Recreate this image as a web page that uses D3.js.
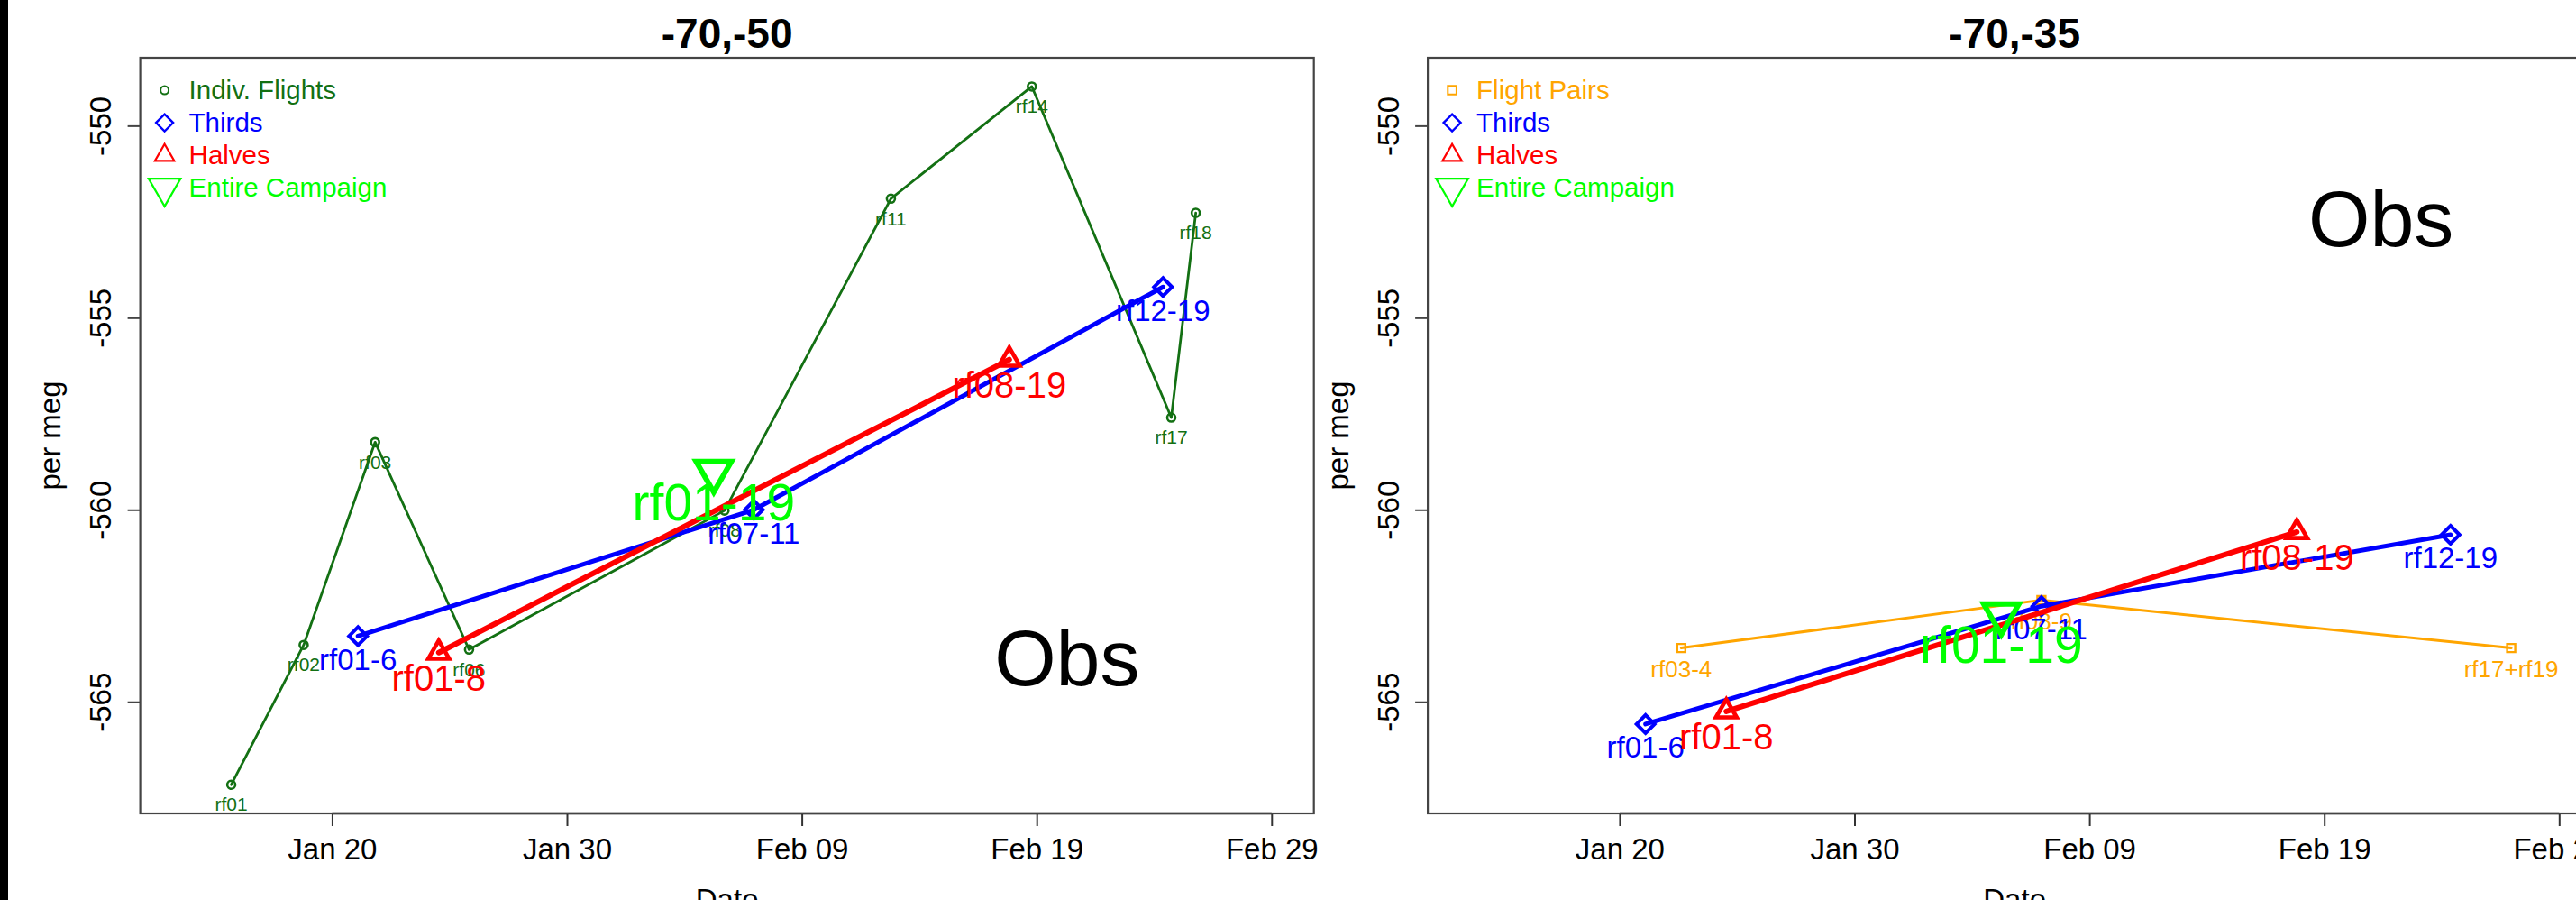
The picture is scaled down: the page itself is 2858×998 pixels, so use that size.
<!DOCTYPE html>
<html>
<head>
<meta charset="utf-8">
<script src="https://cdn.jsdelivr.net/npm/d3@7"></script>
<style>
  html, body { margin: 0; padding: 0; background: #fff; overflow: hidden; }
  svg { display: block; }
</style>
</head>
<body>
<svg id="chart" width="2858" height="998"></svg>
<script>
// ---------------- DATA ----------------
const tickDates = ["2016-01-20", "2016-01-30", "2016-02-09", "2016-02-19", "2016-02-29"];
const yTicks = [-550, -555, -560, -565];
const panelTitles = ["-70,-50", "-70,-35"];

// Panel 1: individual flights
const p1FlightLabels = ["rf01", "rf02", "rf03", "rf06", "rf08", "rf11", "rf14", "rf17", "rf18"];
const p1FlightDates = ["2016-01-15T17:00", "2016-01-18T19:00", "2016-01-21T20:00", "2016-01-25T20:00",
  "2016-02-05T17:00", "2016-02-12T19:00", "2016-02-18T19:00", "2016-02-24T17:30", "2016-02-25T18:30"];
const p1FlightValues = [-567.16, -563.52, -558.24, -563.64, -560.02, -551.90, -548.98, -557.60, -552.27];

// Panel 2: flight pairs
const p2PairLabels = ["rf03-4", "rf08-9", "rf17+rf19"];
const p2PairDates = ["2016-01-22T15:00", "2016-02-06T23:00", "2016-02-26T23:00"];
const p2PairValues = [-563.60, -562.35, -563.60];

// Thirds
const thirdsLabels = ["rf01-6", "rf07-11", "rf12-19"];
const thirdsDates = ["2016-01-21T02:30", "2016-02-06T23:00", "2016-02-24T09:00"];
const p1ThirdsValues = [-563.29, -560.00, -554.20];
const p2ThirdsValues = [-565.58, -562.51, -560.65];

// Halves
const halvesLabels = ["rf01-8", "rf08-19"];
const halvesDates = ["2016-01-24T13:00", "2016-02-17T20:00"];
const p1HalvesValues = [-563.72, -556.09];
const p2HalvesValues = [-565.25, -560.58];

// Entire campaign
const entireLabels = ["rf01-19"];
const entireDates = ["2016-02-05T06:00"];
const p1EntireValues = [-559.01];
const p2EntireValues = [-562.72];

// "Obs" annotation anchors (date, value at baseline)
const obsDates = ["2016-02-20T07:00", "2016-02-21T10:00"];
const obsValues = [-564.58, -553.14];

// Axis domains
const xDomainStr = ["2016-01-11T20:00", "2016-03-01T19:12"];
const yDomain = [-567.906, -548.23];

// ---------------- LAYOUT ----------------
const FONT = "'Liberation Sans', Arial, Helvetica, sans-serif";
const PANEL_STEP = 1428.5;
const BOX = { left: 155.6, top: 64, width: 1302.1, height: 838 };

const parseT = d3.utcParse("%Y-%m-%dT%H:%M");
const parseD = d3.utcParse("%Y-%m-%d");
const pt = s => parseT(s) || parseD(s);

const COLORS = {
  flights: "#137013",
  pairs: "#FFA500",
  thirds: "#0000FF",
  halves: "#FF0000",
  entire: "#00FF00"
};

// style per series
const STYLE = {
  flights: { lw: 2.8, shape: "circle", size: 4.5, sw: 2.6, fs: 21 },
  pairs:   { lw: 3,   shape: "square", size: 4.5, sw: 2.4, fs: 26 },
  thirds:  { lw: 5,   shape: "diamond", size: 10, sw: 4, fs: 33 },
  halves:  { lw: 6,   shape: "tri", size: 8.6, sw: 4.6, fs: 40 },
  entire:  { lw: 5,   shape: "triDown", size: 14.5, sw: 6, fs: 57 }
};

function shapePath(shape, s) {
  switch (shape) {
    case "circle":
      return `M${s},0A${s},${s},0,1,1,${-s},0A${s},${s},0,1,1,${s},0Z`;
    case "square":
      return `M${-s},${-s}H${s}V${s}H${-s}Z`;
    case "diamond":
      return `M0,${-s}L${s},0L0,${s}L${-s},0Z`;
    case "tri": {
      const r = 1.5551 * s, xc = 1.3468 * s, yc = 0.7776 * s;
      return `M0,${-r}L${xc},${yc}L${-xc},${yc}Z`;
    }
    case "triDown": {
      const r = 1.5551 * s, xc = 1.3468 * s, yc = 0.7776 * s;
      return `M0,${r}L${xc},${-yc}L${-xc},${-yc}Z`;
    }
  }
}

const svg = d3.select("#chart");
svg.append("rect").attr("x", 0).attr("y", 0).attr("width", 2858).attr("height", 998).attr("fill", "#fff");
// black strip at far left (edge of neighbouring figure)
svg.append("rect").attr("x", 0).attr("y", 0).attr("width", 9).attr("height", 998).attr("fill", "#000");

const panels = [
  {
    title: panelTitles[0],
    series: [
      { key: "flights", labels: p1FlightLabels, dates: p1FlightDates, values: p1FlightValues },
      { key: "thirds", labels: thirdsLabels, dates: thirdsDates, values: p1ThirdsValues },
      { key: "halves", labels: halvesLabels, dates: halvesDates, values: p1HalvesValues },
      { key: "entire", labels: entireLabels, dates: entireDates, values: p1EntireValues }
    ],
    legend: [
      { key: "flights", text: "Indiv. Flights", shape: "circle", size: 4.5, sw: 2 },
      { key: "thirds", text: "Thirds", shape: "diamond", size: 9.5, sw: 2.4 },
      { key: "halves", text: "Halves", shape: "tri", size: 8, sw: 2.2 },
      { key: "entire", text: "Entire Campaign", shape: "triDown", size: 13.2, sw: 2.2 }
    ]
  },
  {
    title: panelTitles[1],
    series: [
      { key: "pairs", labels: p2PairLabels, dates: p2PairDates, values: p2PairValues },
      { key: "thirds", labels: thirdsLabels, dates: thirdsDates, values: p2ThirdsValues },
      { key: "halves", labels: halvesLabels, dates: halvesDates, values: p2HalvesValues },
      { key: "entire", labels: entireLabels, dates: entireDates, values: p2EntireValues }
    ],
    legend: [
      { key: "pairs", text: "Flight Pairs", shape: "square", size: 4.8, sw: 2 },
      { key: "thirds", text: "Thirds", shape: "diamond", size: 9.5, sw: 2.4 },
      { key: "halves", text: "Halves", shape: "tri", size: 8, sw: 2.2 },
      { key: "entire", text: "Entire Campaign", shape: "triDown", size: 13.2, sw: 2.2 }
    ]
  }
];

panels.forEach((panel, pi) => {
  const left = BOX.left + pi * PANEL_STEP;
  const g = svg.append("g").attr("transform", `translate(${left},${BOX.top})`);
  const W = BOX.width, H = BOX.height;

  const x = d3.scaleUtc().domain(xDomainStr.map(pt)).range([0, W]);
  const y = d3.scaleLinear().domain(yDomain).range([H, 0]);

  // title
  g.append("text")
    .attr("x", W / 2).attr("y", 53 - BOX.top)
    .attr("text-anchor", "middle")
    .attr("font-family", FONT).attr("font-weight", "bold").attr("font-size", 46)
    .attr("fill", "#000")
    .text(panel.title);

  // y label
  g.append("text")
    .attr("transform", `translate(${67 - BOX.left},${H / 2}) rotate(-90)`)
    .attr("text-anchor", "middle")
    .attr("font-family", FONT).attr("font-size", 33).attr("fill", "#000")
    .text("per meg");

  // x label
  g.append("text")
    .attr("x", W / 2).attr("y", 1009 - BOX.top)
    .attr("text-anchor", "middle")
    .attr("font-family", FONT).attr("font-size", 33).attr("fill", "#000")
    .text("Date");

  // x axis
  const xAxis = d3.axisBottom(x)
    .tickValues(tickDates.map(pt))
    .tickFormat(d3.utcFormat("%b %d"))
    .tickSize(14).tickSizeOuter(0).tickPadding(13.6);
  const gx = g.append("g").attr("transform", `translate(0,${H})`).call(xAxis);
  gx.select(".domain").remove();
  gx.selectAll(".tick line").attr("stroke", "#333").attr("stroke-width", 2);
  gx.selectAll(".tick text").attr("font-family", FONT).attr("font-size", 33).attr("fill", "#000");
  const tx = tickDates.map(pt).map(x);
  g.append("line").attr("x1", tx[0]).attr("x2", tx[tx.length - 1]).attr("y1", H).attr("y2", H)
    .attr("stroke", "#222").attr("stroke-width", 2.4);

  // y axis
  const yAxis = d3.axisLeft(y).tickValues(yTicks).tickFormat(d => String(d))
    .tickSize(14).tickSizeOuter(0);
  const gy = g.append("g").call(yAxis);
  gy.select(".domain").remove();
  gy.selectAll(".tick line").attr("stroke", "#444").attr("stroke-width", 2);
  gy.selectAll(".tick text")
    .attr("x", null).attr("dy", null)
    .attr("transform", "translate(-32.6,0) rotate(-90)")
    .attr("text-anchor", "middle")
    .attr("font-family", FONT).attr("font-size", 33).attr("fill", "#000");

  // box
  g.append("rect").attr("x", 0).attr("y", 0).attr("width", W).attr("height", H)
    .attr("fill", "none").attr("stroke", "#444").attr("stroke-width", 2.2);

  // series
  panel.series.forEach(s => {
    const st = STYLE[s.key];
    const col = COLORS[s.key];
    const pts = s.dates.map((d, i) => ({ t: pt(d), v: s.values[i], lab: s.labels[i] }));
    const sg = g.append("g");
    if (pts.length > 1) {
      sg.append("path")
        .attr("d", d3.line().x(p => x(p.t)).y(p => y(p.v))(pts))
        .attr("fill", "none").attr("stroke", col).attr("stroke-width", st.lw)
        .attr("stroke-linejoin", "round").attr("stroke-linecap", "round");
    }
    sg.selectAll("path.mk").data(pts).enter().append("path").attr("class", "mk")
      .attr("transform", p => `translate(${x(p.t)},${y(p.v)})`)
      .attr("d", shapePath(st.shape, st.size))
      .attr("fill", "none").attr("stroke", col).attr("stroke-width", st.sw)
      .attr("stroke-linejoin", "miter");
    sg.selectAll("text.lb").data(pts).enter().append("text").attr("class", "lb")
      .attr("x", p => x(p.t))
      .attr("y", p => y(p.v) + 15 + 0.676 * st.fs)
      .attr("text-anchor", "middle")
      .attr("font-family", FONT).attr("font-size", st.fs).attr("fill", col)
      .text(p => p.lab);
  });

  // legend
  const lg = g.append("g");
  panel.legend.forEach((it, i) => {
    const ry = 36 + i * 36.1;
    lg.append("path")
      .attr("transform", `translate(27,${ry})`)
      .attr("d", shapePath(it.shape, it.size))
      .attr("fill", "none").attr("stroke", COLORS[it.key]).attr("stroke-width", it.sw);
    lg.append("text")
      .attr("x", 54).attr("y", ry + 10)
      .attr("font-family", FONT).attr("font-size", 29.5).attr("fill", COLORS[it.key])
      .text(it.text);
  });

  // Obs annotation
  g.append("text")
    .attr("x", x(pt(obsDates[pi]))).attr("y", y(obsValues[pi]))
    .attr("text-anchor", "middle")
    .attr("font-family", FONT).attr("font-size", 88).attr("fill", "#000")
    .text("Obs");
});
</script>
</body>
</html>
